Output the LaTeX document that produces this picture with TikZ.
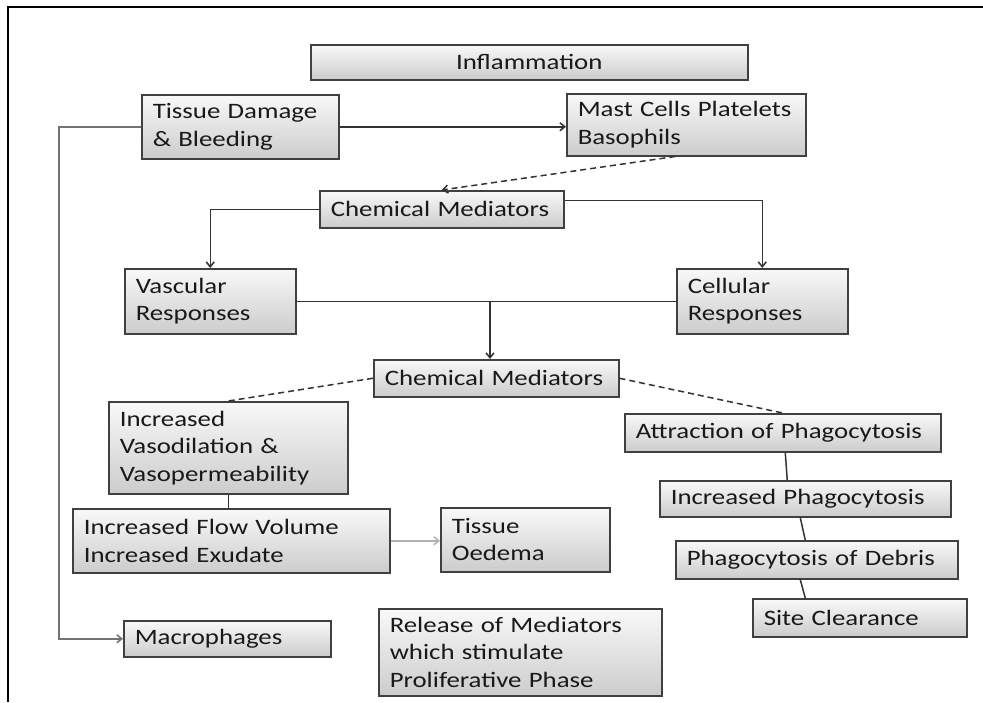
\documentclass[tikz,border=0pt]{standalone}
\usepackage{fontspec}
\setmainfont{Carlito}[FakeStretch=1.22]
\usetikzlibrary{arrows.meta,calc}
\begin{document}
\begin{tikzpicture}[x=1pt,y=-1pt,
 box/.style={draw=black!75, line width=1.5pt, top color=gray!5, bottom color=gray!40, inner xsep=11pt, inner ysep=2pt, align=left, anchor=north west, font=\fontsize{22}{27.5}\selectfont, text=black!90},
 con/.style={draw=black!80, line width=1.5pt},
 arr/.style={-{Straight Barb[length=5pt,width=8pt]}},
 dsh/.style={dash pattern=on 6pt off 4pt},
]
\useasboundingbox (0,0) rectangle (983,702);
\fill[white] (0,0) rectangle (983,702);
\draw[line width=2.5pt] (8,702) -- (8,7) -- (983,7);

\node[box, text width=415pt, align=center, minimum height=35pt] (infl) at (310,44) {Inflammation};
\node[box, text width=175pt, minimum height=64pt] (tissue) at (141,94) {Tissue Damage\\\& Bleeding};
\node[box, text width=217pt, minimum height=62pt] (mast) at (566,93) {Mast Cells Platelets\\Basophils};
\node[box, text width=222pt, minimum height=37pt] (chem1) at (319,190) {Chemical Mediators};
\node[box, text width=149pt, minimum height=65pt] (vasc) at (124,268) {Vascular\\Responses};
\node[box, text width=149pt, minimum height=65pt] (cell) at (676,268) {Cellular\\Responses};
\node[box, text width=223pt, minimum height=37pt] (chem2) at (373,359) {Chemical Mediators};
\node[box, text width=217pt, minimum height=92pt] (vaso) at (108,401) {Increased\\Vasodilation \&\\Vasopermeability};
\node[box, text width=294pt, minimum height=38pt] (attr) at (624,413) {Attraction of Phagocytosis};
\node[box, text width=295pt, minimum height=64pt] (flow) at (72,508) {Increased Flow Volume\\Increased Exudate};
\node[box, text width=147pt, minimum height=64pt] (oed) at (440,507) {Tissue\\Oedema};
\node[box, text width=269pt, minimum height=36pt] (incp) at (659,480) {Increased Phagocytosis};
\node[box, text width=260pt, minimum height=38pt] (debr) at (675,540) {Phagocytosis of Debris};
\node[box, text width=192pt, minimum height=38pt] (site) at (752,598) {Site Clearance};
\node[box, text width=185pt, minimum height=36pt] (macro) at (123,620) {Macrophages};
\node[box, text width=261pt, minimum height=87pt] (rel) at (378,608) {Release of Mediators\\which stimulate\\Proliferative Phase};

\coordinate (lc) at (59,0);
\coordinate (jx) at (490,0);

\draw[con,arr,draw=black!55] (tissue.west) -| (lc |- macro.west) -- (macro.west);
\draw[con,arr] (tissue.east) -- (tissue.east -| mast.west);
\draw[con,arr,dsh] ($(mast.south)+(-11,0)$) -- (chem1.north);
\draw[con,arr] (chem1.west) -| (vasc.north);
\draw[con,arr] ($(chem1.east)+(0,-9)$) -| (cell.north);
\draw[con] (vasc.east) -- (cell.west);
\draw[con,arr] (vasc.east -| jx) -- (jx |- chem2.north);
\draw[con,dsh] (chem2.west) -- (vaso.north);
\draw[con,dsh] (chem2.east) -- (attr.north);
\draw[con] ($(attr.south)+(2.5,0)$) -- ($(incp.north)+(-18,0)$);
\draw[con] ($(incp.south)+(-5,0)$) -- ($(debr.north)+(-11.5,0)$);
\draw[con] ($(debr.south)+(-16.5,0)$) -- ($(site.north)+(-54.5,0)$);
\draw[con] (vaso.south) -- (vaso.south |- flow.north);
\draw[con,arr,draw=gray!60] (flow.east) -- (flow.east -| oed.west);
\end{tikzpicture}
\end{document}
